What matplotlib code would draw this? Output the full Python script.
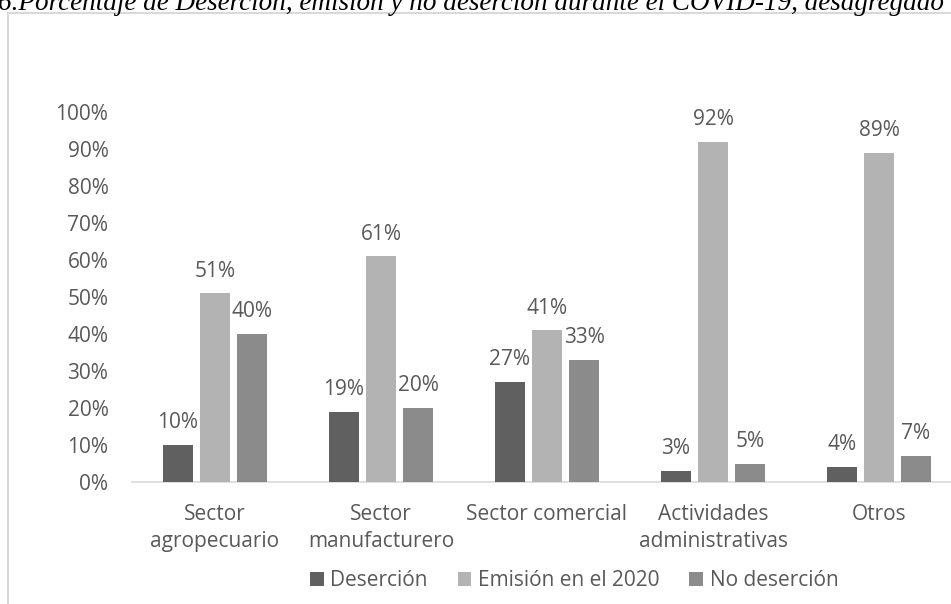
import numpy as np
import matplotlib.pyplot as plt
from matplotlib.patches import Rectangle

categories = ["Sector\nagropecuario", "Sector\nmanufacturero", "Sector comercial",
              "Actividades\nadministrativas", "Otros"]
desercion = [10, 19, 27, 3, 4]
emision = [51, 61, 41, 92, 89]
no_desercion = [40, 20, 33, 5, 7]
series_names = ["Deserción", "Emisión en el 2020", "No deserción"]
colors = ["#606060", "#b3b3b3", "#8b8b8b"]
text_color = "#595959"
fs = 15

plt.rcParams['font.family'] = ['Open Sans', 'DejaVu Sans']

W, H = 951, 604
fig = plt.figure(figsize=(W / 100, H / 100), dpi=100)

# chart frame, cut off at right and bottom like the screenshot
fig.patches.append(Rectangle((8 / W, -0.1), 1.2, 1.1 - 13 / H, transform=fig.transFigure,
                             fill=False, edgecolor="#d9d9d9", linewidth=1.5))

# caption cropped at the top edge (as in the screenshot)
fig.text(-2 / W, 1 - 10 / H, "6.Porcentaje de Deserción, emisión y no deserción durante el COVID-19, desagregado",
         family="Liberation Serif", style="italic", fontsize=19.5, va="baseline", ha="left", color="black")

ax = fig.add_axes([132 / W, 1 - 482 / H, 830 / W, 370 / H])

x = np.arange(len(categories))
width = 0.175
step = 0.223
for i, (vals, name, c) in enumerate(zip([desercion, emision, no_desercion], series_names, colors)):
    pos = x + (i - 1) * step
    bars = ax.bar(pos, np.array(vals) / 100, width, color=c, label=name, zorder=3)
    for b, v in zip(bars, vals):
        ax.annotate(f"{v}%", (b.get_x() + b.get_width() / 2, b.get_height()),
                    xytext=(0, 16), textcoords="offset points",
                    ha="center", va="center", fontsize=fs, color=text_color, annotation_clip=False)

ax.set_xlim(-0.5, len(categories) - 0.5)
ax.set_ylim(0, 1)
yt = np.arange(0, 1.01, 0.1)
ax.set_yticks(yt)
ax.set_yticklabels([f"{int(round(t * 100))}%" for t in yt])
ax.set_xticks(x)
ax.set_xticklabels(categories, linespacing=1.33, va="top")
ax.tick_params(axis="both", length=0, labelsize=fs, labelcolor=text_color)
ax.tick_params(axis="x", pad=16)
ax.tick_params(axis="y", pad=17)
for s in ["top", "right", "left"]:
    ax.spines[s].set_visible(False)
ax.spines["bottom"].set_color("#d9d9d9")
ax.spines["bottom"].set_linewidth(1.2)

fig.legend(loc="center", bbox_to_anchor=(574 / W, 1 - 581 / H), ncol=3, frameon=False,
           fontsize=fs, labelcolor=text_color, handlelength=0.67, handleheight=0.67,
           handletextpad=0.3, columnspacing=1.45, borderpad=0)

fig.savefig("out.png", dpi=100)
